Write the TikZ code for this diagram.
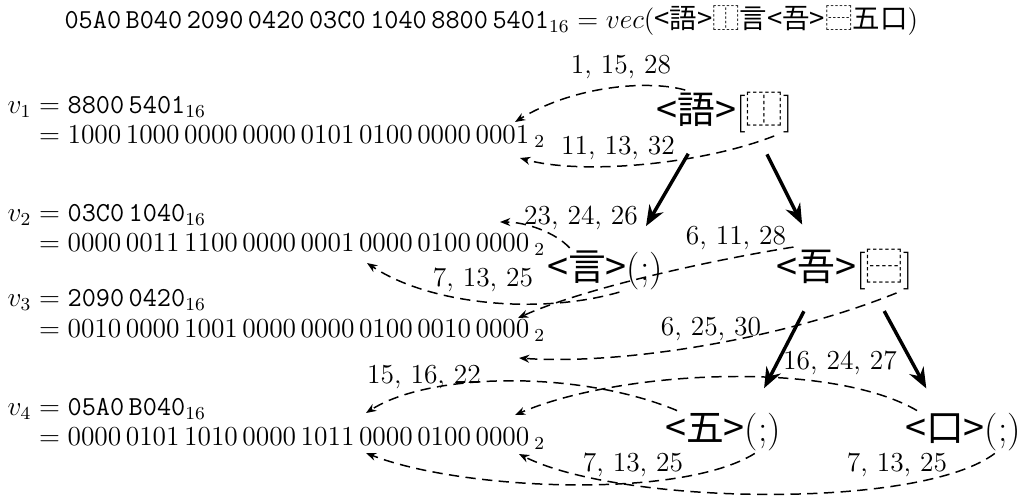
\documentclass[tikz,border=0pt,12pt]{standalone}
\usepackage{fontspec}
\newfontfamily\cjk{Noto Sans CJK JP}
\usetikzlibrary{arrows.meta}

\tikzset{every picture/.style={line width=0.75pt}}
\tikzset{
  rowtxt/.style={anchor=base west, inner sep=0.75pt},
  numlbl/.style={inner sep=0.75pt},
  glyphnode/.style={inner sep=0.75pt, font=\fontsize{16.5}{19}\selectfont},
  treearr/.style={-{Stealth[length=9pt,width=7pt]}, line width=1.5pt, shorten <=9pt, shorten >=11pt},
  bitarr/.style={-{Stealth[length=4.5pt,width=3.5pt]}, line width=0.65pt, dash pattern=on 4.5pt off 2.8pt},
}

\begin{document}
\begin{tikzpicture}[x=0.437pt,y=0.437pt,yscale=-1,xscale=1]
		\useasboundingbox (0,0) rectangle (1025,499);
		
		%Title
		\node [rowtxt] (title) at (62,28) {$\texttt{05A0}\,\texttt{B040}\,\texttt{2090}\,\texttt{0420}\,\texttt{03C0}\,\texttt{1040}\,\texttt{8800}\,\texttt{5401}_{16} = vec(\mbox{\cjk <語>⿰言<吾>⿱五口})$};
		
		%Rows
		\node [rowtxt] (v1) at (5,113) {$v_1 = \texttt{8800}\,\texttt{5401}_{16}$};
		\node [rowtxt] (b1) at (5,143) {$\phantom{v_1} = 1000\,1000\,0000\,0000\,0101\,0100\,0000\,0001\,{}_2$};
		\node [rowtxt] (v2) at (5,221) {$v_2 = \texttt{03C0}\,\texttt{1040}_{16}$};
		\node [rowtxt] (b2) at (5,251) {$\phantom{v_2} = 0000\,0011\,1100\,0000\,0001\,0000\,0100\,0000\,{}_2$};
		\node [rowtxt] (v3) at (5,306) {$v_3 = \texttt{2090}\,\texttt{0420}_{16}$};
		\node [rowtxt] (b3) at (5,337) {$\phantom{v_3} = 0010\,0000\,1001\,0000\,0000\,0100\,0010\,0000\,{}_2$};
		\node [rowtxt] (v4) at (5,415) {$v_4 = \texttt{05A0}\,\texttt{B040}_{16}$};
		\node [rowtxt] (b4) at (5,445) {$\phantom{v_4} = 0000\,0101\,1010\,0000\,1011\,0000\,0100\,0000\,{}_2$};
		
		%Glyph nodes
		\node [glyphnode] (yu) at (725,113) {{\cjk <語>}[{\cjk ⿰}]};
		\node [glyphnode] (gen) at (605,270) {{\cjk <言>}(;)};
		\node [glyphnode] (go) at (845,270) {{\cjk <吾>}[{\cjk ⿱}]};
		\node [glyphnode] (five) at (723,432) {{\cjk <五>}(;)};
		\node [glyphnode] (kuchi) at (963,432) {{\cjk <口>}(;)};
		
		%Bit positions
		\node [numlbl] (l1) at (621,67) {1, 15, 28};
		\node [numlbl] (l2) at (618,148) {11, 13, 32};
		\node [numlbl] (l3) at (581,218) {23, 24, 26};
		\node [numlbl] (l4) at (736,238) {6, 11, 28};
		\node [numlbl] (l5) at (483,280) {7, 13, 25};
		\node [numlbl] (l6) at (711,329) {6, 25, 30};
		\node [numlbl] (l7) at (840,363) {16, 24, 27};
		\node [numlbl] (l8) at (424,377) {15, 16, 22};
		\node [numlbl] (l9) at (633,465) {7, 13, 25};
		\node [numlbl] (l10) at (897,465) {7, 13, 25};
		
		\coordinate (t1a) at (515,122);
		\coordinate (t1b) at (520,158);
		\coordinate (t2a) at (500,222);
		\coordinate (t2b) at (367,263);
		\coordinate (t3a) at (518,318);
		\coordinate (t3b) at (519,358);
		\coordinate (t4a) at (366,413);
		\coordinate (t4b) at (515,415);
		\coordinate (t4c) at (366,453);
		\coordinate (t4d) at (519,454);
		
		%Tree
		\draw [treearr] (yu.221) -- (gen.38);
		\draw [treearr] (yu.-35) -- (go.144);
		\draw [treearr] (go.216) -- (five.36);
		\draw [treearr] (go.-38) -- (kuchi.139);
		
		%Dashed
		\draw [bitarr] (yu.150) .. controls (650,80) and (575,85) .. (t1a);
		\draw [bitarr] (yu.-25) .. controls (700,165) and (580,175) .. (t1b);
		\draw [bitarr] (gen.148) .. controls (555,232) and (525,222) .. (t2a);
		\draw [bitarr] (gen.-57) .. controls (540,315) and (430,305) .. (t2b);
		\draw [bitarr] (go.156) .. controls (700,262) and (580,290) .. (t3a);
		\draw [bitarr] (go.-24) .. controls (780,340) and (620,365) .. (t3b);
		\draw [bitarr] (five.155) .. controls (580,370) and (430,372) .. (t4a);
		\draw [bitarr] (kuchi.155) .. controls (830,360) and (620,370) .. (t4b);
		\draw [bitarr] (five.-34) .. controls (680,500) and (460,490) .. (t4c);
		\draw [bitarr] (kuchi.-34) .. controls (920,510) and (620,505) .. (t4d);
		
	\end{tikzpicture}
\end{document}
